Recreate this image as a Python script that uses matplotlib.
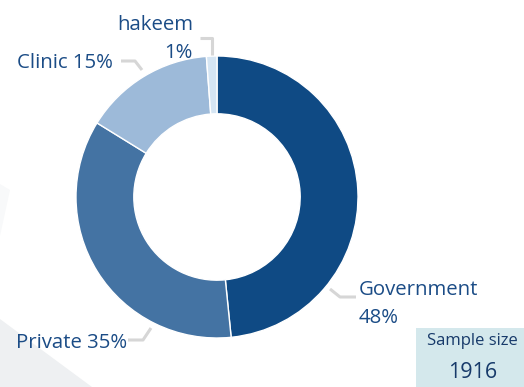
import matplotlib

matplotlib.use("Agg")
import matplotlib.pyplot as plt
from matplotlib.patches import Polygon, Rectangle

# provider share of visits (percent)
providers = ["Government", "Private", "Clinic", "hakeem"]
shares = [48.4, 35.4, 15.0, 1.2]
sample_size = 1916

colors = ["#0f4a84", "#4473a3", "#9dbad9", "#d5e5f3"]
text_color = "#1b4c86"

W, H = 524, 387
fig = plt.figure(figsize=(W / 100, H / 100), dpi=100)
ax = fig.add_axes([0, 0, 1, 1])
ax.set_xlim(0, W)
ax.set_ylim(0, H)
ax.set_axis_off()


def py(y):
    # work in pixel rows counted from the top
    return H - y


# faint background shapes
ax.add_patch(Polygon([(0, py(319)), (92, py(387)), (0, py(387))],
                     closed=True, facecolor="#eef0f2", edgecolor="none", zorder=0))
ax.add_patch(Polygon([(0, py(184)), (10, py(190)), (0, py(236))],
                     closed=True, facecolor="#f8f9fa", edgecolor="none", zorder=0))

cx, cy, r = 217, py(197), 141
ax.pie(shares, colors=colors, startangle=90, counterclock=False,
       center=(cx, cy), radius=r, frame=True,
       wedgeprops=dict(width=r * 0.41, edgecolor="white", linewidth=1.0))
ax.set_xlim(0, W)
ax.set_ylim(0, H)
ax.set_aspect("equal")

# leader lines
lead = dict(color="#d6d6d6", lw=2.2, solid_capstyle="butt", zorder=3)
ax.plot([330, 340, 356], [py(289), py(297), py(297)], **lead)
ax.plot([151, 143, 128], [py(328), py(340), py(340)], **lead)
ax.plot([121, 135, 142], [py(61), py(61), py(70)], **lead)
ax.plot([200, 212, 212], [py(38), py(38), py(55)], **lead)

font = "Open Sans"
fs = 14.7
pct = [f"{round(s):d}%" for s in shares]
ax.text(359, py(290), providers[0], fontsize=fs, color=text_color,
        family=font, ha="left", va="center")
ax.text(359, py(318), pct[0], fontsize=fs, color=text_color,
        family=font, ha="left", va="center")
ax.text(127, py(343), f"{providers[1]} {pct[1]}", fontsize=fs,
        color=text_color, family=font, ha="right", va="center")
ax.text(113, py(63), f"{providers[2]} {pct[2]}", fontsize=fs,
        color=text_color, family=font, ha="right", va="center")
ax.text(193, py(25), providers[3], fontsize=fs, color=text_color,
        family=font, ha="right", va="center")
ax.text(193, py(53), pct[3], fontsize=fs, color=text_color,
        family=font, ha="right", va="center")

# sample size box
ax.add_patch(Rectangle((416, 0), W - 416, py(328), facecolor="#d4e8ec",
                       edgecolor="none", zorder=4))
ax.text(472, py(341), "Sample size", fontsize=12, color="#173a6a",
        family=font, ha="center", va="center", zorder=5)
ax.text(473, py(372), f"{sample_size}", fontsize=15.5, color="#173a6a",
        family=font, fontweight="medium", ha="center", va="center", zorder=5)

fig.savefig("out.png", dpi=100)
